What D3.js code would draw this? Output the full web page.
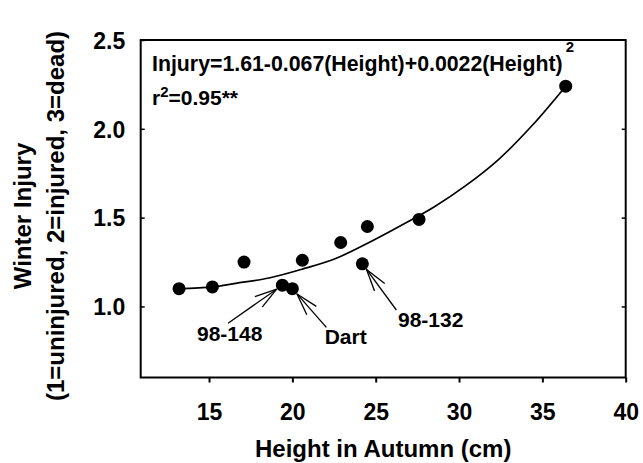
<!DOCTYPE html>
<html>
<head>
<meta charset="utf-8">
<script src="https://cdn.jsdelivr.net/npm/d3@7"></script>
<style>
  body { margin: 0; background: #fff; }
  svg text { font-family: "Liberation Sans", Arial, Helvetica, sans-serif; font-weight: bold; fill: #000; }
</style>
</head>
<body>
<div class="chart"></div>
<script>
// observed points: autumn height (cm) vs winter injury score
const heights = [13.2, 15.2, 17.1, 19.4, 20.0, 20.6, 22.9, 24.2, 24.5, 27.6, 36.4]
const injury  = [1.10, 1.11, 1.25, 1.12, 1.10, 1.26, 1.36, 1.24, 1.45, 1.49, 2.24]

// fitted curve
const fitX = [13.2, 15.2, 16.6, 18.6, 20.6, 22.6, 24.6, 26.6, 28.5, 30.4, 32.4, 34.4, 36.4]
const fitY = [1.10, 1.11, 1.13, 1.16, 1.21, 1.27, 1.36, 1.46, 1.56, 1.68, 1.83, 2.02, 2.24]

const xTicks = [15, 20, 25, 30, 35, 40]
const yTicks = [1.0, 1.5, 2.0, 2.5]

// labelled cultivars: point index, label, arrow tail and label anchor (data units)
const labelNames = ['98-148', 'Dart', '98-132']
const labelPoint = [3, 4, 7]
const tailX = [16.14, 22.04, 26.24]
const tailY = [0.905, 0.882, 0.98]
const textX = [16.24, 23.2, 28.3]
const textY = [0.805, 0.79, 0.884]

window.onload = () => {
    const W = 643, H = 463
    const left = 140.7, right = 625.7, top = 40, bottom = 377.5

    let svg = d3.select('.chart').append('svg')
        .attr('width', W)
        .attr('height', H)

    let x = d3.scaleLinear().domain([10.9, 40]).range([left, right])
    let y = d3.scaleLinear().domain([0.6, 2.5]).range([bottom, top])

    // frame
    svg.append('rect')
        .attr('x', left).attr('y', top)
        .attr('width', right - left).attr('height', bottom - top)
        .attr('fill', 'none').attr('stroke', '#000').attr('stroke-width', 2)

    // bottom axis
    let gx = svg.append('g')
        .attr('transform', `translate(0,${bottom})`)
        .call(d3.axisBottom(x).tickValues(xTicks).tickSize(5).tickSizeOuter(0).tickFormat(d3.format('d')))
    gx.select('.domain').remove()
    gx.selectAll('line').attr('stroke-width', 2)
    gx.selectAll('text')
        .attr('dy', null).attr('y', 42.5)
        .style('font-size', '23px')

    // left axis
    let gy = svg.append('g')
        .attr('transform', `translate(${left},0)`)
        .call(d3.axisLeft(y).tickValues(yTicks).tickSize(-4).tickSizeOuter(0).tickFormat(d3.format('.1f')))
    gy.select('.domain').remove()
    gy.selectAll('line').attr('stroke-width', 1.5)
    gy.selectAll('text')
        .attr('x', -15.5)
        .attr('dy', '0.36em')
        .style('font-size', '23px')

    // right axis ticks
    let gr = svg.append('g')
        .attr('transform', `translate(${right},0)`)
        .call(d3.axisRight(y).tickValues(yTicks.slice(0, 3)).tickSize(-4).tickSizeOuter(0).tickFormat(''))
    gr.select('.domain').remove()
    gr.selectAll('line').attr('stroke-width', 1.5)

    // fitted line
    let pts = fitX.map((v, i) => [v, fitY[i]])
    let line = d3.line()
        .x(d => x(d[0]))
        .y(d => y(d[1]))
        .curve(d3.curveCatmullRom)
    svg.append('path')
        .datum(pts)
        .attr('d', line)
        .attr('fill', 'none')
        .attr('stroke', '#000')
        .attr('stroke-width', 1.7)

    // points
    svg.selectAll('circle.pt')
        .data(heights.map((h, i) => [h, injury[i]]))
        .enter().append('circle')
        .attr('class', 'pt')
        .attr('cx', d => x(d[0]))
        .attr('cy', d => y(d[1]))
        .attr('r', 6.5)
        .attr('fill', '#000')

    // arrows and labels
    for (let k = 0; k < labelNames.length; k++) {
        let i = labelPoint[k]
        let px = x(heights[i]), py = y(injury[i])
        let tx = x(tailX[k]), ty = y(tailY[k])
        let ang = Math.atan2(ty - py, tx - px)
        let hx = px + 7 * Math.cos(ang), hy = py + 7 * Math.sin(ang)
        let g = svg.append('g').attr('stroke', '#000').attr('stroke-width', 1.3)
        g.append('line').attr('x1', hx).attr('y1', hy).attr('x2', tx).attr('y2', ty)
        for (let s of [-1, 1]) {
            let a = ang + s * 16 * Math.PI / 180
            g.append('line')
                .attr('x1', hx).attr('y1', hy)
                .attr('x2', hx + 23 * Math.cos(a)).attr('y2', hy + 23 * Math.sin(a))
        }
        svg.append('text')
            .attr('x', x(textX[k]))
            .attr('y', y(textY[k]))
            .attr('text-anchor', 'middle')
            .style('font-size', '21px')
            .text(labelNames[k])
    }

    // equation
    let eq = svg.append('text')
        .attr('x', 152).attr('y', 71)
        .style('font-size', '21.3px')
    eq.append('tspan').text('Injury=1.61-0.067(Height)+0.0022(Height)')
    eq.append('tspan').attr('dy', -19).attr('dx', 3).style('font-size', '15px').text('2')

    let r2 = svg.append('text')
        .attr('x', 152).attr('y', 105)
        .style('font-size', '21px')
    r2.append('tspan').text('r')
    r2.append('tspan').attr('dy', -8).style('font-size', '15px').text('2')
    r2.append('tspan').attr('dy', 8).text('=0.95**')

    // axis titles
    svg.append('text')
        .attr('x', (left + right) / 2).attr('y', 456.5)
        .attr('text-anchor', 'middle')
        .style('font-size', '24px')
        .text('Height in Autumn (cm)')

    let cy = 216
    svg.append('text')
        .attr('transform', `translate(31,${cy}) rotate(-90)`)
        .attr('text-anchor', 'middle')
        .style('font-size', '24px')
        .text('Winter Injury')
    svg.append('text')
        .attr('transform', `translate(64,${cy}) rotate(-90)`)
        .attr('text-anchor', 'middle')
        .style('font-size', '24px')
        .text('(1=uninjured, 2=injured, 3=dead)')
}
</script>
</body>
</html>
